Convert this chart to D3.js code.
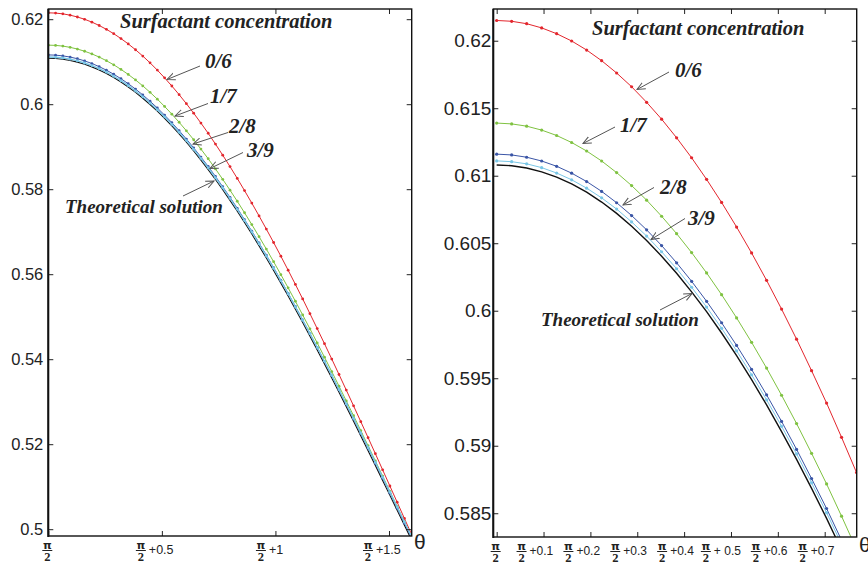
<!DOCTYPE html>
<html>
<head>
<meta charset="utf-8">
<script src="https://cdn.jsdelivr.net/npm/d3@7"></script>
<style>
  html, body { margin: 0; padding: 0; background: #fff; }
  svg { display: block; }
  .tick text { font-family: "Liberation Sans", Arial, sans-serif; fill: #222; }
  .ann { font-family: "Liberation Serif", "Times New Roman", serif; font-weight: bold; font-style: italic; fill: #222; }
</style>
</head>
<body>
<svg id="chart" width="868" height="563"></svg>
<script>
// theta offset from pi/2 (radians)
const thetaOffset = [0,0.032,0.064,0.096,0.128,0.16,0.192,0.224,0.256,0.288,0.32,0.352,0.384,0.416,0.448,0.48,0.512,0.544,0.576,0.608,0.64,0.672,0.704,0.736,0.768,0.8,0.832,0.864,0.896,0.928,0.96,0.992,1.024,1.056,1.088,1.12,1.152,1.184,1.216,1.248,1.28,1.312,1.344,1.376,1.408,1.44,1.472,1.504,1.536,1.568,1.6];

// surfactant concentration 0/6
const conc06 = [0.6215,0.62144,0.62126,0.62095,0.62052,0.61998,0.61931,0.61852,0.61761,0.61659,0.61544,0.61419,0.61281,0.61133,0.60973,0.60802,0.60620,0.60428,0.60225,0.60012,0.59789,0.59556,0.59316,0.59062,0.58801,0.58532,0.58254,0.57967,0.57673,0.57371,0.57062,0.56746,0.56423,0.56094,0.55759,0.55418,0.55071,0.54720,0.54365,0.54004,0.53640,0.53273,0.52903,0.52529,0.52154,0.51776,0.51397,0.51016,0.50635,0.50253,0.49872];
// 1/7
const conc17 = [0.6139,0.61384,0.61367,0.61338,0.61298,0.61246,0.61183,0.61109,0.61023,0.60927,0.60819,0.60700,0.60571,0.60431,0.60280,0.60119,0.59947,0.59766,0.59575,0.59374,0.59164,0.58944,0.58717,0.58478,0.58232,0.57978,0.57716,0.57446,0.57168,0.56884,0.56592,0.56294,0.55990,0.55679,0.55363,0.55041,0.54715,0.54384,0.54048,0.53709,0.53366,0.53019,0.52670,0.52318,0.51963,0.51607,0.51250,0.50891,0.50531,0.50172,0.49812];
// 2/8
const conc28 = [0.6116,0.61154,0.61137,0.61109,0.61070,0.61019,0.60957,0.60884,0.60800,0.60705,0.60599,0.60483,0.60355,0.60218,0.60070,0.59911,0.59743,0.59565,0.59377,0.59180,0.58973,0.58757,0.58535,0.58300,0.58058,0.57809,0.57551,0.57286,0.57013,0.56734,0.56447,0.56155,0.55856,0.55551,0.55240,0.54924,0.54604,0.54278,0.53949,0.53615,0.53278,0.52938,0.52595,0.52249,0.51901,0.51551,0.51200,0.50848,0.50494,0.50141,0.49787];
// 3/9
const conc39 = [0.6111,0.61104,0.61088,0.61060,0.61020,0.60970,0.60908,0.60836,0.60753,0.60658,0.60553,0.60437,0.60311,0.60174,0.60027,0.59870,0.59703,0.59526,0.59340,0.59144,0.58939,0.58725,0.58504,0.58270,0.58031,0.57783,0.57527,0.57264,0.56993,0.56716,0.56432,0.56141,0.55844,0.55541,0.55233,0.54919,0.54601,0.54278,0.53951,0.53620,0.53285,0.52947,0.52607,0.52263,0.51918,0.51571,0.51222,0.50872,0.50522,0.50171,0.49820];
// theoretical solution
const theory = [0.6108,0.61074,0.61057,0.61029,0.60990,0.60939,0.60878,0.60805,0.60721,0.60626,0.60521,0.60404,0.60278,0.60140,0.59993,0.59835,0.59667,0.59489,0.59302,0.59105,0.58899,0.58684,0.58462,0.58228,0.57987,0.57738,0.57481,0.57216,0.56945,0.56666,0.56380,0.56088,0.55790,0.55486,0.55176,0.54861,0.54541,0.54217,0.53888,0.53556,0.53220,0.52880,0.52538,0.52193,0.51846,0.51497,0.51147,0.50796,0.50443,0.50091,0.49738];

const seriesNames = ["Theoretical solution","0/6","1/7","2/8","3/9"];
const seriesColors = ["#111111","#e3262d","#7fc241","#3a55a6","#79c6e6"];

// tick labels
const leftYTicks = [0.5,0.52,0.54,0.56,0.58,0.6,0.62];
const leftYLabels = ["0.5","0.52","0.54","0.56","0.58","0.6","0.62"];
const leftXTicks = [0,0.5,1,1.5];
const leftXLabels = ["","+0.5","+1","+1.5"];
const rightYTicks = [0.585,0.59,0.595,0.6,0.605,0.61,0.615,0.62];
const rightYLabels = ["0.585","0.59","0.595","0.6","0.605","0.61","0.615","0.62"];
const rightXTicks = [0,0.1,0.2,0.3,0.4,0.5,0.6,0.7];
const rightXLabels = ["","+0.1","+0.2","+0.3","+0.4","+ 0.5","+0.6","+0.7"];

const svg = d3.select("#chart");
const defs = svg.append("defs");
defs.append("marker").attr("id","arr").attr("viewBox","0 0 10 10")
  .attr("refX",9).attr("refY",5).attr("markerWidth",9).attr("markerHeight",9)
  .attr("orient","auto").attr("markerUnits","userSpaceOnUse")
  .append("path").attr("d","M0,1 L9,5 L0,9").attr("fill","none").attr("stroke","#555").attr("stroke-width",1.1);

function drawPanel(cfg) {
  const x = d3.scaleLinear().domain(cfg.xDomain).range(cfg.xRange);
  const y = d3.scaleLinear().domain(cfg.yDomain).range(cfg.yRange);
  const g = svg.append("g");
  const clipId = "clip" + cfg.id;
  defs.append("clipPath").attr("id", clipId).append("rect")
    .attr("x", cfg.xRange[0]).attr("y", cfg.yRange[1])
    .attr("width", cfg.xRange[1]-cfg.xRange[0]).attr("height", cfg.yRange[0]-cfg.yRange[1]);

  const data = [theory, conc06, conc17, conc28, conc39];
  const lg = g.append("g").attr("clip-path", `url(#${clipId})`);
  data.forEach((arr, i) => {
    const pts = thetaOffset.map((t, j) => [t, arr[j]]);
    lg.append("path").datum(pts)
      .attr("fill","none").attr("stroke", seriesColors[i])
      .attr("stroke-width", cfg.widths[i])
      .attr("d", d3.line().x(d => x(d[0])).y(d => y(d[1])));
    if (i > 0) {
      lg.selectAll(null).data(pts).enter().append("circle")
        .attr("cx", d => x(d[0])).attr("cy", d => y(d[1]))
        .attr("r", cfg.dotR).attr("fill", seriesColors[i]);
    }
  });

  // axes with inward ticks
  const fs = cfg.fontSize;
  const ay = g.append("g").attr("transform", `translate(${cfg.xRange[0]},0)`)
    .call(d3.axisLeft(y).tickValues(cfg.yTicks).tickFormat((d,i)=>cfg.yLabels[i]).tickSizeInner(-5).tickSizeOuter(0).tickPadding(cfg.yPad));
  ay.selectAll("text").style("font-size", fs + "px");
  const ar = g.append("g").attr("transform", `translate(${cfg.xRange[1]},0)`)
    .call(d3.axisRight(y).tickValues(cfg.yTicks).tickFormat("").tickSizeInner(-5).tickSizeOuter(0));
  const ab = g.append("g").attr("transform", `translate(0,${cfg.yRange[0]})`)
    .call(d3.axisBottom(x).tickValues(cfg.xTicks).tickFormat("").tickSizeInner(-5).tickSizeOuter(0));
  const at = g.append("g").attr("transform", `translate(0,${cfg.yRange[1]})`)
    .call(d3.axisTop(x).tickValues(cfg.xTicks).tickFormat("").tickSizeInner(-5).tickSizeOuter(0));
  [ay, ar, ab, at].forEach(a => {
    a.select(".domain").remove();
    a.selectAll("line").attr("stroke","#222").attr("stroke-width",1);
  });
  g.append("rect").attr("x", cfg.xRange[0]).attr("y", cfg.yRange[1])
    .attr("width", cfg.xRange[1]-cfg.xRange[0]).attr("height", cfg.yRange[0]-cfg.yRange[1])
    .attr("fill","none").attr("stroke","#111").attr("stroke-width",1.4);
  g.append("line").attr("x1", cfg.xRange[0]).attr("x2", cfg.xRange[0])
    .attr("y1", cfg.yRange[1]).attr("y2", cfg.yRange[0]+1).attr("stroke","#111").attr("stroke-width",2);

  // x tick labels: pi/2 fraction + offset
  cfg.xTicks.forEach((t, i) => {
    const tx = x(t);
    const lab = cfg.xLabels[i];
    const grp = g.append("g");
    const tw = lab ? lab.length * cfg.xFs * 0.52 : 0;
    const fracW = 12;
    const total = lab ? fracW + 2 + tw : fracW;
    const start = lab ? tx - cfg.xShift - total/2 : tx - fracW/2 - 1;
    const fc = start + fracW/2;
    grp.append("text").attr("x", fc).attr("y", cfg.yRange[0]+13).attr("text-anchor","middle")
      .style("font-family","'DejaVu Sans', sans-serif").style("font-size","11px").style("font-weight","bold").attr("fill","#222").text("π");
    grp.append("line").attr("x1", fc-5).attr("x2", fc+5).attr("y1", cfg.yRange[0]+14.5).attr("y2", cfg.yRange[0]+14.5)
      .attr("stroke","#222").attr("stroke-width",1);
    grp.append("text").attr("x", fc).attr("y", cfg.yRange[0]+24.5).attr("text-anchor","middle")
      .style("font-family","'Liberation Serif', serif").style("font-size","12.5px").style("font-weight","bold").attr("fill","#222").text("2");
    if (lab) {
      grp.append("text").attr("x", start + fracW + 2).attr("y", cfg.yRange[0]+18)
        .style("font-family","'Liberation Sans', Arial, sans-serif").style("font-size", cfg.xFs + "px").attr("fill","#222").text(lab);
    }
  });

  svg.append("text").attr("x", cfg.thetaX).attr("y", cfg.thetaY)
    .style("font-family","'Liberation Sans', Arial, sans-serif").style("font-size","21px").attr("fill","#222").text("θ");

  // annotations
  cfg.anns.forEach(a => {
    svg.append("text").attr("class","ann").attr("x", a.tx).attr("y", a.ty)
      .style("font-size", a.fs + "px").text(a.text);
    if (a.arrow) {
      svg.append("line").attr("x1", a.arrow[0]).attr("y1", a.arrow[1]).attr("x2", a.arrow[2]).attr("y2", a.arrow[3])
        .attr("stroke","#555").attr("stroke-width",1).attr("marker-end","url(#arr)");
    }
  });
}

drawPanel({
  id: "L",
  xDomain: [0, 1.6], xRange: [48.3, 411.7],
  yDomain: [0.4984, 0.6224], yRange: [536, 9],
  yTicks: leftYTicks, yLabels: leftYLabels, xTicks: leftXTicks, xLabels: leftXLabels,
  fontSize: 16.5, yPad: 5, xFs: 12.5, xShift: 7,
  widths: [1.1, 1, 1, 1, 1.4], dotR: 1.4,
  thetaX: 414, thetaY: 549,
  anns: [
    {text: "Surfactant concentration", tx: 120, ty: 28, fs: 20.5},
    {text: "0/6", tx: 205, ty: 68, fs: 21, arrow: [200, 66, 167, 79.5]},
    {text: "1/7", tx: 210, ty: 103, fs: 21, arrow: [208, 103.5, 175, 116]},
    {text: "2/8", tx: 229, ty: 133, fs: 21, arrow: [228, 132.5, 193, 144]},
    {text: "3/9", tx: 247, ty: 157, fs: 21, arrow: [243, 152.5, 210, 168.5]},
    {text: "Theoretical solution", tx: 65, ty: 213, fs: 19, arrow: [183, 196, 214, 181]}
  ]
});

drawPanel({
  id: "R",
  xDomain: [-0.0072, 0.7683], xRange: [493.3, 856.7],
  yDomain: [0.58324, 0.62235], yRange: [537, 9],
  yTicks: rightYTicks, yLabels: rightYLabels, xTicks: rightXTicks, xLabels: rightXLabels,
  fontSize: 19, yPad: 2, xFs: 12, xShift: 8.5,
  widths: [1.4, 1, 1, 1, 1], dotR: 1.6,
  thetaX: 859, thetaY: 552,
  anns: [
    {text: "Surfactant concentration", tx: 592, ty: 35, fs: 20.5},
    {text: "0/6", tx: 675, ty: 77, fs: 21, arrow: [669, 72, 637, 89.5]},
    {text: "1/7", tx: 620, ty: 131.5, fs: 21, arrow: [615, 127, 583, 143.5]},
    {text: "2/8", tx: 660, ty: 193.5, fs: 21, arrow: [654, 187.5, 623, 205]},
    {text: "3/9", tx: 688, ty: 225, fs: 21, arrow: [685, 218.5, 651, 239.5]},
    {text: "Theoretical solution", tx: 541, ty: 326, fs: 19, arrow: [660, 310, 692, 293.5]}
  ]
});
</script>
</body>
</html>
